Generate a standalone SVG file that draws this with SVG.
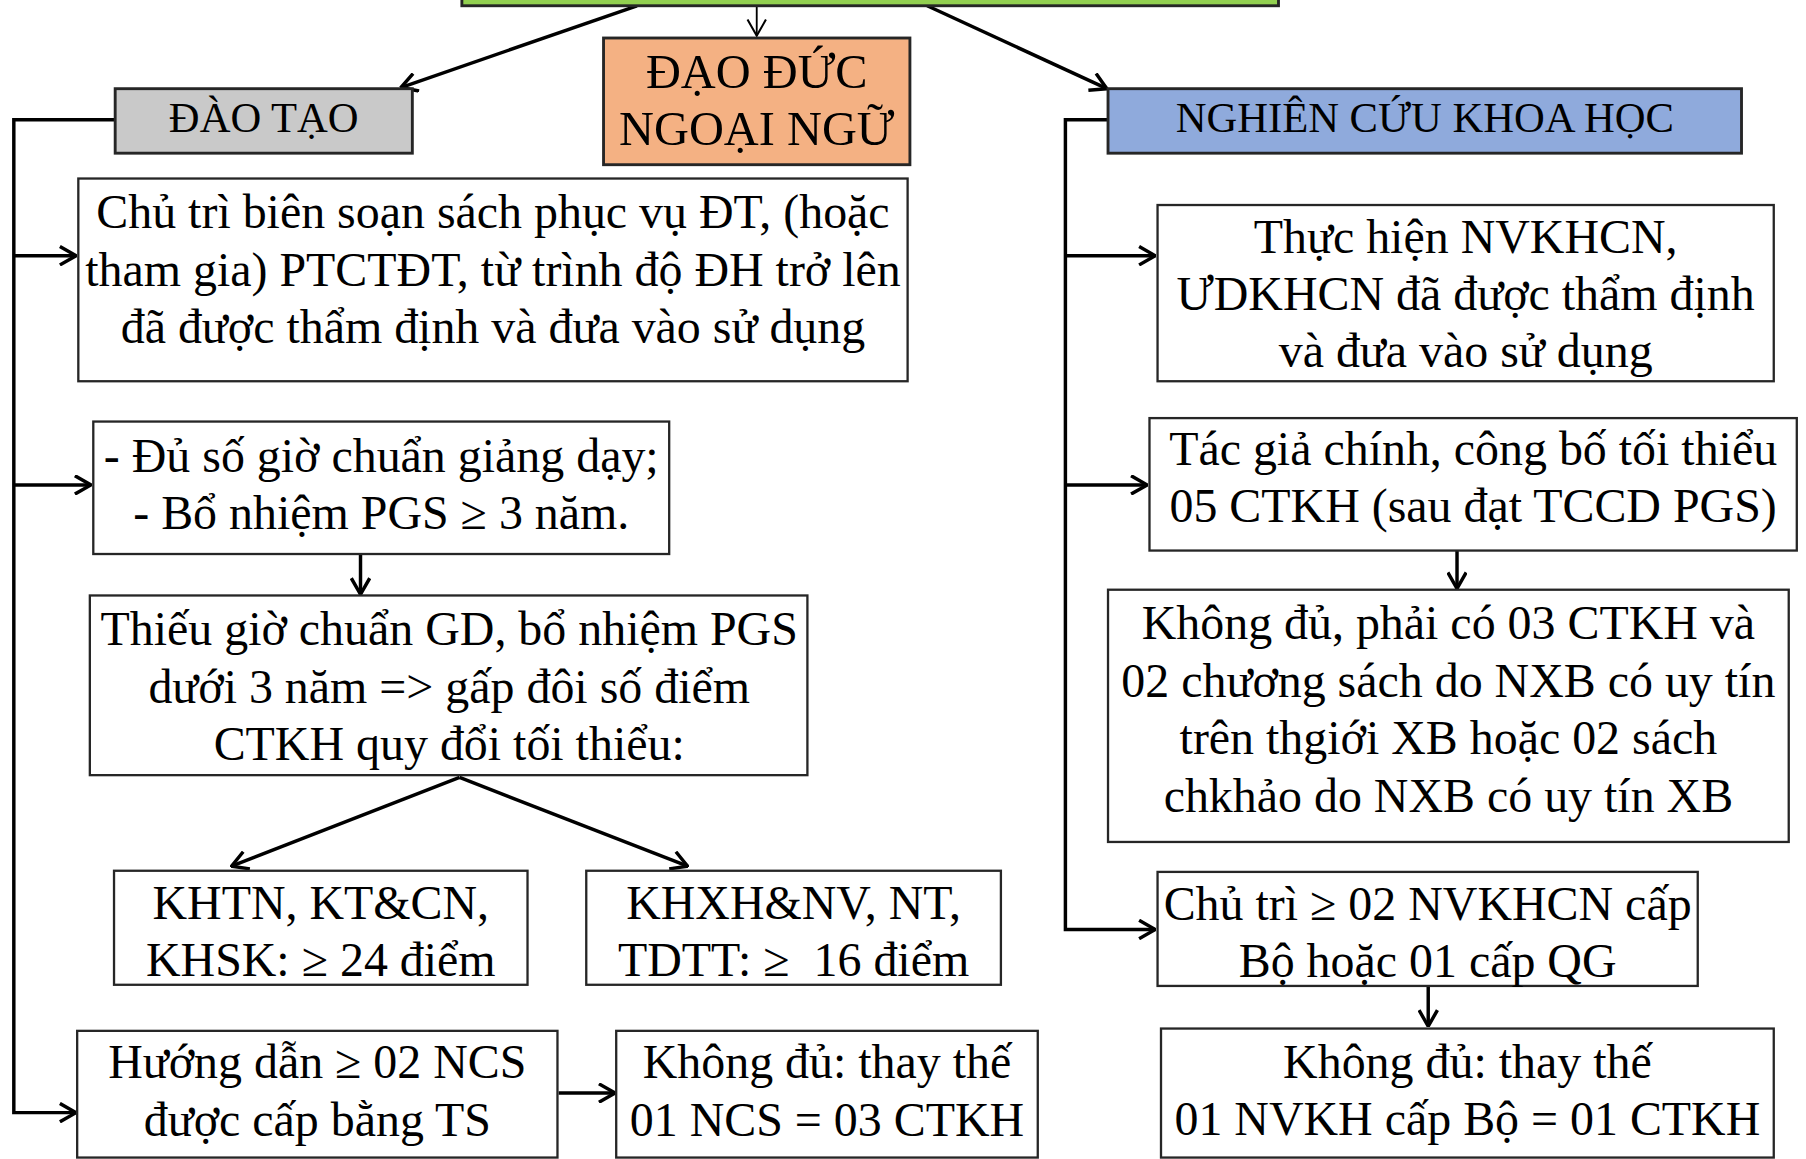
<svg xmlns="http://www.w3.org/2000/svg" width="1806" height="1159" viewBox="0 0 1806 1159">
<defs>
<style>
.box{fill:#ffffff;stroke:#262626;stroke-width:2}
.t{font-family:"Liberation Serif","Times New Roman",serif;font-size:41.6px;fill:#000;text-anchor:middle}
.h{font-family:"Liberation Serif","Times New Roman",serif;font-size:37px;fill:#000;text-anchor:middle}
.c{fill:none;stroke:#000;stroke-width:3}
.cthin{fill:none;stroke:#000;stroke-width:1.6}
</style>
<marker id="ah" viewBox="0 0 16 18" refX="15" refY="9" markerWidth="16" markerHeight="18" markerUnits="userSpaceOnUse" orient="auto">
<path d="M1,1 L15,9 L1,17" fill="none" stroke="#000" stroke-width="3"/>
</marker>
<marker id="ahs" viewBox="0 0 16 18" refX="15" refY="9" markerWidth="16" markerHeight="18" markerUnits="userSpaceOnUse" orient="auto">
<path d="M1,1 L15,9 L1,17" fill="none" stroke="#000" stroke-width="1.8"/>
</marker>
</defs>
<rect width="1806" height="1159" fill="#ffffff"/>
<g transform="scale(1.15179)">
<g id="connectors">
<line class="c" x1="553" y1="5" x2="348" y2="76" marker-end="url(#ah)"/>
<line class="cthin" x1="657" y1="5" x2="657" y2="31" marker-end="url(#ahs)"/>
<line class="c" x1="805" y1="5" x2="961" y2="77" marker-end="url(#ah)"/>
<polyline class="c" points="100,104 12,104 12,966 66,966" marker-end="url(#ah)"/>
<line class="c" x1="12" y1="222" x2="66" y2="222" marker-end="url(#ah)"/>
<line class="c" x1="12" y1="421" x2="79" y2="421" marker-end="url(#ah)"/>
<line class="c" x1="313" y1="481" x2="313" y2="516" marker-end="url(#ah)"/>
<line class="c" x1="399" y1="675" x2="201" y2="752" marker-end="url(#ah)"/>
<line class="c" x1="399" y1="675" x2="597" y2="752" marker-end="url(#ah)"/>
<line class="c" x1="485" y1="949" x2="534" y2="949" marker-end="url(#ah)"/>
<polyline class="c" points="962,104 925,104 925,807 1003,807" marker-end="url(#ah)"/>
<line class="c" x1="925" y1="222" x2="1003" y2="222" marker-end="url(#ah)"/>
<line class="c" x1="925" y1="421" x2="996" y2="421" marker-end="url(#ah)"/>
<line class="c" x1="1265" y1="478" x2="1265" y2="511" marker-end="url(#ah)"/>
<line class="c" x1="1240" y1="856" x2="1240" y2="891" marker-end="url(#ah)"/>
</g>
<g id="top">
<rect x="401" y="-60" width="709" height="65" fill="#92D050" stroke="#262626" stroke-width="2.5"/>
</g>
<g id="daotao">
<rect x="100" y="77" width="258" height="56" fill="#C9C9C9" stroke="#262626" stroke-width="2.5"/>
<text class="h" x="229" y="115">ĐÀO TẠO</text>
</g>
<g id="daoduc">
<rect x="524" y="33" width="266" height="110" fill="#F4B183" stroke="#262626" stroke-width="2.5"/>
<text class="t" style="font-size:42px" x="657" y="76">ĐẠO ĐỨC</text>
<text class="t" style="font-size:42px" x="657" y="126">NGOẠI NGỮ</text>
</g>
<g id="nckh">
<rect x="962" y="77" width="550" height="56" fill="#8FAADC" stroke="#262626" stroke-width="2.5"/>
<text class="h" x="1237" y="115">NGHIÊN CỨU KHOA HỌC</text>
</g>
<g id="box1">
<rect class="box" x="68" y="155" width="720" height="176"/>
<text class="t" x="428" y="198">Chủ trì biên soạn sách phục vụ ĐT, (hoặc</text>
<text class="t" x="428" y="248">tham gia) PTCTĐT, từ trình độ ĐH trở lên</text>
<text class="t" x="428" y="298">đã được thẩm định và đưa vào sử dụng</text>
</g>
<g id="box2">
<rect class="box" x="81" y="366" width="500" height="115"/>
<text class="t" x="331" y="410">- Đủ số giờ chuẩn giảng dạy;</text>
<text class="t" x="331" y="459">- Bổ nhiệm PGS ≥ 3 năm.</text>
</g>
<g id="box3">
<rect class="box" x="78" y="517" width="623" height="156"/>
<text class="t" x="390" y="560">Thiếu giờ chuẩn GD, bổ nhiệm PGS</text>
<text class="t" x="390" y="610">dưới 3 năm =&gt; gấp đôi số điểm</text>
<text class="t" x="390" y="660">CTKH quy đổi tối thiểu:</text>
</g>
<g id="box4">
<rect class="box" x="99" y="756" width="359" height="99"/>
<text class="t" x="278.5" y="798">KHTN, KT&amp;CN,</text>
<text class="t" x="278.5" y="847">KHSK: ≥ 24 điểm</text>
</g>
<g id="box5">
<rect class="box" x="509" y="756" width="360" height="99"/>
<text class="t" x="689" y="798">KHXH&amp;NV, NT,</text>
<text class="t" x="689" y="847" xml:space="preserve">TDTT: ≥  16 điểm</text>
</g>
<g id="box6">
<rect class="box" x="67" y="895" width="417" height="110"/>
<text class="t" x="275.5" y="936">Hướng dẫn ≥ 02 NCS</text>
<text class="t" x="275.5" y="986">được cấp bằng TS</text>
</g>
<g id="box7">
<rect class="box" x="535" y="895" width="366" height="110"/>
<text class="t" x="718" y="936">Không đủ: thay thế</text>
<text class="t" x="718" y="986">01 NCS = 03 CTKH</text>
</g>
<g id="r1">
<rect class="box" x="1005" y="178" width="535" height="153"/>
<text class="t" x="1272.5" y="220">Thực hiện NVKHCN,</text>
<text class="t" x="1272.5" y="269">ƯDKHCN đã được thẩm định</text>
<text class="t" x="1272.5" y="319">và đưa vào sử dụng</text>
</g>
<g id="r2">
<rect class="box" x="998" y="363" width="562" height="115"/>
<text class="t" x="1279" y="404">Tác giả chính, công bố tối thiểu</text>
<text class="t" x="1279" y="453">05 CTKH (sau đạt TCCD PGS)</text>
</g>
<g id="r3">
<rect class="box" x="962" y="512" width="591" height="219"/>
<text class="t" x="1257.5" y="555">Không đủ, phải có 03 CTKH và</text>
<text class="t" x="1257.5" y="605">02 chương sách do NXB có uy tín</text>
<text class="t" x="1257.5" y="655">trên thgiới XB hoặc 02 sách</text>
<text class="t" x="1257.5" y="705">chkhảo do NXB có uy tín XB</text>
</g>
<g id="r4">
<rect class="box" x="1005" y="757" width="469" height="99"/>
<text class="t" x="1239.5" y="799">Chủ trì ≥ 02 NVKHCN cấp</text>
<text class="t" x="1239.5" y="848">Bộ hoặc 01 cấp QG</text>
</g>
<g id="r5">
<rect class="box" x="1008" y="893" width="532" height="112"/>
<text class="t" x="1274" y="936">Không đủ: thay thế</text>
<text class="t" x="1274" y="985">01 NVKH cấp Bộ = 01 CTKH</text>
</g>
</g>
</svg>
